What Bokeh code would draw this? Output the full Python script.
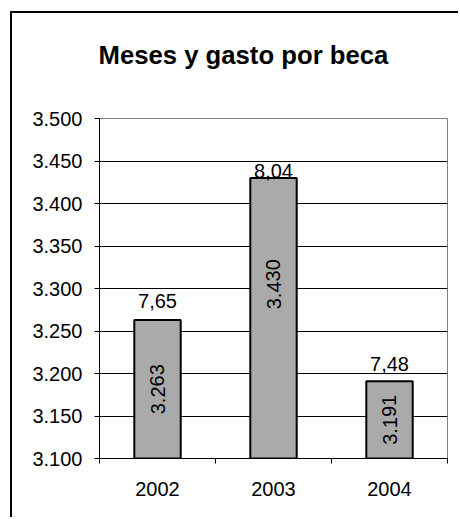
from bokeh.plotting import figure
from bokeh.models import ColumnDataSource, FixedTicker, Range1d, Title
from bokeh.core.properties import value
from bokeh.embed import file_html
from bokeh.resources import INLINE

years = ["2002", "2003", "2004"]
gasto = [3263, 3430, 3191]
meses = ["7,65", "8,04", "7,48"]
y_ticks = [3100, 3150, 3200, 3250, 3300, 3350, 3400, 3450, 3500]

# label spacing (pixels) as seen in the reference
top_gaps = [19, 7, 17]
inner_shift = [0, -34, 0]

Y0 = 3100
FONT = "Liberation Sans"

def fmt(v):
    return f"{v:,}".replace(",", ".")

xs = [i + 0.5 for i in range(len(years))]
src = ColumnDataSource(dict(
    x=xs, top=gasto, mid=[(Y0 + g) / 2 for g in gasto],
    meses=meses, lab=[fmt(g) for g in gasto],
    gap=[-g for g in top_gaps], shift=inner_shift,
))

p = figure(width=448, height=506, output_backend="svg", toolbar_location=None,
           x_range=Range1d(0, len(years)), y_range=Range1d(y_ticks[0], y_ticks[-1]),
           min_border_left=87, min_border_right=13, min_border_top=105, min_border_bottom=61)
p.margin = (11, 0, 0, 10)
p.styles = {"border-top": "2px solid #000000", "border-left": "2px solid #000000"}
p.background_fill_color = "white"
p.border_fill_color = "white"
p.outline_line_color = "#808080"
p.outline_line_width = 1

# spacer between the title and the plot area
spacer = Title(text=" ", text_font_size="1px", standoff=24)
p.add_layout(spacer, "above")
main_title = Title(text="Meses y gasto por beca", align="left", offset=-1, standoff=46,
                   text_font=FONT, text_font_size="25.7px", text_font_style="bold",
                   text_color="black")
p.add_layout(main_title, "above")

p.vbar(x="x", top="top", bottom=Y0, width=0.4, source=src,
       fill_color="#aaaaaa", line_color="black", line_width=2)

p.text(x="x", y="top", text="meses", source=src, y_offset="gap",
       text_align="center", text_baseline="alphabetic",
       text_font=value(FONT), text_font_size="20px", text_color="black")
p.text(x="x", y="mid", text="lab", source=src, y_offset="shift", angle=1.5708,
       text_align="center", text_baseline="middle",
       text_font=value(FONT), text_font_size="20px", text_color="black")

# y axis
p.yaxis.ticker = FixedTicker(ticks=y_ticks)
p.yaxis.major_label_overrides = {t: fmt(t) for t in y_ticks}
p.yaxis.major_label_text_font = FONT
p.yaxis.major_label_text_font_size = "20px"
p.yaxis.major_label_text_color = "black"
p.yaxis.major_tick_out = 5
p.yaxis.major_tick_in = 0
p.yaxis.minor_tick_line_color = None
p.yaxis.major_label_standoff = 12
p.yaxis.axis_line_color = "black"
p.yaxis.major_tick_line_color = "black"

# x axis: labels at category centres, ticks at boundaries
p.xaxis.ticker = FixedTicker(ticks=xs, minor_ticks=list(range(len(years) + 1)))
p.xaxis.major_label_overrides = {x: y for x, y in zip(xs, years)}
p.xaxis.major_label_text_font = FONT
p.xaxis.major_label_text_font_size = "20px"
p.xaxis.major_label_text_color = "black"
p.xaxis.major_tick_line_color = None
p.xaxis.minor_tick_out = 5
p.xaxis.minor_tick_in = 0
p.xaxis.minor_tick_line_color = "black"
p.xaxis.major_label_standoff = 17
p.xaxis.axis_line_color = "black"

p.xgrid.grid_line_color = None
p.ygrid.ticker = FixedTicker(ticks=y_ticks[1:-1])
p.ygrid.grid_line_color = "black"
p.ygrid.grid_line_width = 1

open("out.html", "w").write(file_html(p, INLINE))
